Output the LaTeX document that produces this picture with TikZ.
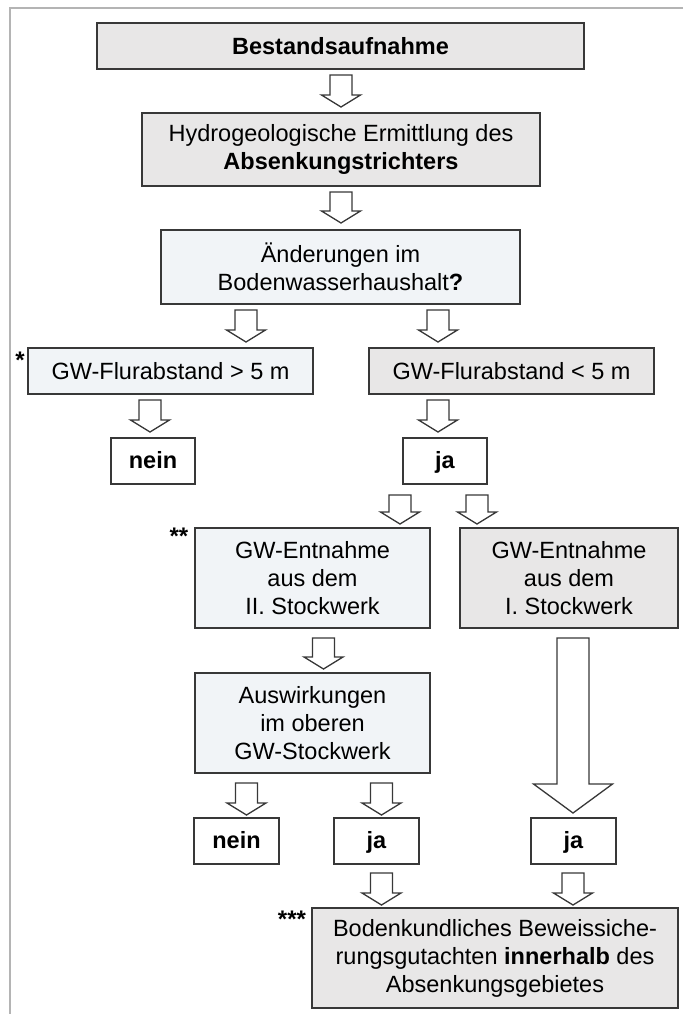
\documentclass[tikz,border=0pt]{standalone}
\usepackage{fontspec}
\setmainfont{Liberation Sans}
\definecolor{frame}{HTML}{B4B4B4}
\definecolor{edge}{HTML}{383838}
\definecolor{gfill}{HTML}{E8E7E7}
\definecolor{bfill}{HTML}{F1F4F7}
\tikzset{
  box/.style={draw=edge, line width=1.6pt, rectangle, inner sep=0pt, align=center,
    font=\fontsize{23.5}{28}\selectfont},
  grey/.style={box, fill=gfill},
  blue/.style={box, fill=bfill},
  plain/.style={box, fill=white, font=\fontsize{23.5}{28}\selectfont\bfseries,
    text height=17pt, text depth=3pt},
  barrow/.style={draw=edge, line width=1.3pt, fill=white, line join=miter},
  star/.style={inner sep=0pt, font=\fontsize{24}{28}\selectfont\bfseries}
}
% block arrow: x, top, bottom, shaft half width, head half width, head length
\newcommand{\blockarr}[6]{%
  \draw[barrow] (#1-#4,#2) -- (#1+#4,#2) -- (#1+#4,#3-#6) -- (#1+#5,#3-#6) -- (#1,#3)
    -- (#1-#5,#3-#6) -- (#1-#4,#3-#6) -- cycle;}
\begin{document}
\begin{tikzpicture}[x=1pt,y=-1pt]
\useasboundingbox (0,0) rectangle (683,1014);
\fill[white] (0,0) rectangle (683,1014);
\draw[frame, line width=2pt] (683,8) -- (10,8) -- (10,1014);

\node[grey, minimum width=487pt, minimum height=46pt] (b1) at (340.5,46) {\textbf{Bestandsaufnahme}};
\node[grey, minimum width=398pt, minimum height=73pt] (b2) at (341,149.5) {Hydrogeologische Ermittlung des\\\textbf{Absenkungstrichters}};
\node[blue, minimum width=359pt, minimum height=74pt] (b3) at (340.5,267) {Änderungen im\\Bodenwasserhaushalt\textbf{?}};
\node[blue, minimum width=285pt, minimum height=46pt] (g1) at (170.5,371) {GW-Flurabstand > 5 m};
\node[grey, minimum width=285pt, minimum height=46pt] (g2) at (511.5,371) {GW-Flurabstand < 5 m};
\node[plain, minimum width=84pt, minimum height=46pt] (n1) at (153,461) {nein};
\node[plain, minimum width=84pt, minimum height=46pt] (j1) at (445,461) {ja};
\node[blue, minimum width=235pt, minimum height=100pt] (e2) at (312.5,578) {GW-Entnahme\\aus dem\\II. Stockwerk};
\node[grey, minimum width=218pt, minimum height=100pt] (e1) at (569,578) {GW-Entnahme\\aus dem\\I. Stockwerk};
\node[blue, minimum width=235pt, minimum height=100pt] (aw) at (312.5,723) {Auswirkungen\\im oberen\\GW-Stockwerk};
\node[plain, minimum width=85pt, minimum height=46pt] (n2) at (236.5,841) {nein};
\node[plain, minimum width=85pt, minimum height=46pt] (j2) at (376.5,841) {ja};
\node[plain, minimum width=85pt, minimum height=46pt] (j3) at (573.5,841) {ja};
\node[grey, minimum width=366pt, minimum height=100pt] (fb) at (495,958) {Bodenkundliches Beweissiche-\\rungsgutachten \textbf{innerhalb} des\\Absenkungsgebietes};

\node[star] (s1) at (20,360) {*};
\node[star] (s2) at (179,536) {**};
\node[star] (s3) at (292,919) {***};

\blockarr{341}{75}{107}{11}{19.5}{12}
\blockarr{341}{192}{223}{11}{19.5}{12}
\blockarr{246}{310}{342}{11}{19.5}{12}
\blockarr{438}{310}{342}{11}{19.5}{12}
\blockarr{150}{400}{432}{11}{19.5}{12}
\blockarr{438}{400}{432}{11}{19.5}{12}
\blockarr{400}{495}{524}{11}{19.5}{12}
\blockarr{477}{495}{524}{11}{19.5}{12}
\blockarr{323.5}{638}{669}{11}{19.5}{12}
\blockarr{573}{638}{813}{16}{39.5}{29}
\blockarr{246.5}{783}{815}{11}{19.5}{12}
\blockarr{381.5}{783}{815}{11}{19.5}{12}
\blockarr{381.5}{873}{905}{11}{19.5}{12}
\blockarr{573}{873}{905}{11}{19.5}{12}
\end{tikzpicture}
\end{document}
